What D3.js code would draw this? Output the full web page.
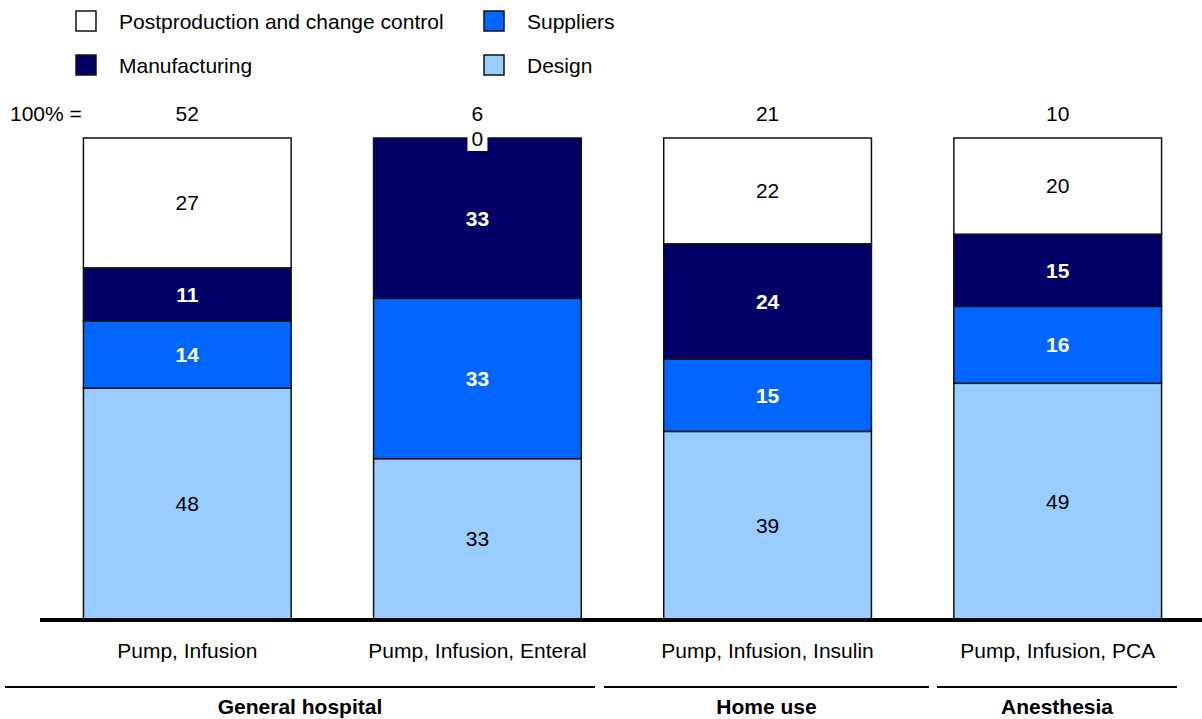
<!DOCTYPE html>
<html>
<head>
<meta charset="utf-8">
<script src="https://cdn.jsdelivr.net/npm/d3@7"></script>
<style>
  html, body { margin: 0; padding: 0; background: #fff; }
  svg { display: block; font-family: "Liberation Sans", Arial, sans-serif; }
</style>
</head>
<body>
<svg id="chart" width="1202" height="719"></svg>
<script>
// Device categories and their groups
const categories = ["Pump, Infusion", "Pump, Infusion, Enteral", "Pump, Infusion, Insulin", "Pump, Infusion, PCA"];
const groups = [
  { name: "General hospital", members: ["Pump, Infusion", "Pump, Infusion, Enteral"] },
  { name: "Home use", members: ["Pump, Infusion, Insulin"] },
  { name: "Anesthesia", members: ["Pump, Infusion, PCA"] }
];
const totals = [52, 6, 21, 10];

// Share of recalls by root cause (%), stacked bottom to top
const seriesKeys = ["Design", "Suppliers", "Manufacturing", "Postproduction and change control"];
const design = [48, 33, 39, 49];
const suppliers = [14, 33, 15, 16];
const manufacturing = [11, 33, 24, 15];
const postproduction = [27, 0, 22, 20];

const colors = {
  "Design": "#99ccff",
  "Suppliers": "#0066ff",
  "Manufacturing": "#000066",
  "Postproduction and change control": "#ffffff"
};
const labelStyle = {
  "Design": { fill: "#000", weight: "normal" },
  "Suppliers": { fill: "#fff", weight: "bold" },
  "Manufacturing": { fill: "#fff", weight: "bold" },
  "Postproduction and change control": { fill: "#000", weight: "normal" }
};

const rows = categories.map((c, i) => ({
  category: c,
  "Design": design[i],
  "Suppliers": suppliers[i],
  "Manufacturing": manufacturing[i],
  "Postproduction and change control": postproduction[i]
}));

const svg = d3.select("#chart");
const fontSize = 21;

const x = d3.scaleBand().domain(categories).range([37, 1208]).paddingInner(0.284).paddingOuter(0.16);
const y = d3.scaleLinear().domain([0, 1]).range([619, 138]);

// Each column is shown as shares of its own total
const stack = d3.stack().keys(seriesKeys).offset(d3.stackOffsetExpand);
const stacked = stack(rows);

// Bars
const layers = svg.append("g").selectAll("g")
  .data(stacked).join("g")
  .attr("fill", d => colors[d.key]);

layers.selectAll("rect")
  .data(d => d.map(v => ({ key: d.key, v })))
  .join("rect")
  .attr("x", d => x(d.v.data.category))
  .attr("width", x.bandwidth())
  .attr("y", d => y(d.v[1]))
  .attr("height", d => y(d.v[0]) - y(d.v[1]))
  .attr("stroke", "#111")
  .attr("stroke-width", 1.5);

// Segment value labels
const labels = svg.append("g");
stacked.forEach(layer => {
  layer.forEach(v => {
    const val = v.data[layer.key];
    const cx = x(v.data.category) + x.bandwidth() / 2;
    const cy = (y(v[0]) + y(v[1])) / 2;
    const st = labelStyle[layer.key];
    if (val === 0) {
      labels.append("rect")
        .attr("x", cx - 10).attr("y", cy - 8)
        .attr("width", 20).attr("height", 21)
        .attr("fill", "#fff");
    }
    labels.append("text")
      .attr("x", cx).attr("y", val === 0 ? cy + 1 : cy)
      .attr("dy", "0.35em")
      .attr("text-anchor", "middle")
      .attr("font-size", fontSize)
      .attr("font-weight", val === 0 ? "normal" : st.weight)
      .attr("fill", val === 0 ? "#000" : st.fill)
      .text(val);
  });
});

// Totals row
svg.append("text")
  .attr("x", 10).attr("y", 114).attr("dy", "0.35em")
  .attr("font-size", fontSize).text("100% =");
svg.append("g").selectAll("text")
  .data(categories).join("text")
  .attr("x", d => x(d) + x.bandwidth() / 2)
  .attr("y", 114).attr("dy", "0.35em")
  .attr("text-anchor", "middle")
  .attr("font-size", fontSize)
  .text((d, i) => totals[i]);

// Baseline
svg.append("line")
  .attr("x1", 40).attr("x2", 1202)
  .attr("y1", y(0) + 1).attr("y2", y(0) + 1)
  .attr("stroke", "#000").attr("stroke-width", 4);

// Category axis labels
const xAxis = d3.axisBottom(x).tickSize(0).tickPadding(0);
const axisG = svg.append("g").attr("transform", "translate(0,651)").call(xAxis);
axisG.select(".domain").remove();
axisG.selectAll("text")
  .attr("font-size", fontSize)
  .attr("font-family", "Liberation Sans, Arial, sans-serif")
  .attr("fill", "#000")
  .attr("dy", "0.35em")
  .attr("y", 0);

// Group brackets
const groupExtents = [[5, 595], [604, 929], [937, 1177]];
groups.forEach((g, i) => {
  const [x0, x1] = groupExtents[i];
  svg.append("line")
    .attr("x1", x0).attr("x2", x1)
    .attr("y1", 687).attr("y2", 687)
    .attr("stroke", "#000").attr("stroke-width", 2);
  svg.append("text")
    .attr("x", (x0 + x1) / 2).attr("y", 707).attr("dy", "0.35em")
    .attr("text-anchor", "middle")
    .attr("font-size", fontSize).attr("font-weight", "bold")
    .text(g.name);
});

// Legend
const legendItems = [
  { key: "Postproduction and change control", x: 76, y: 11 },
  { key: "Suppliers", x: 484, y: 11 },
  { key: "Manufacturing", x: 76, y: 55 },
  { key: "Design", x: 484, y: 55 }
];
const legend = svg.append("g");
legendItems.forEach(it => {
  legend.append("rect")
    .attr("x", it.x).attr("y", it.y)
    .attr("width", 20).attr("height", 20)
    .attr("fill", colors[it.key])
    .attr("stroke", "#111").attr("stroke-width", 1.5);
  legend.append("text")
    .attr("x", it.x + 43).attr("y", it.y + 11).attr("dy", "0.35em")
    .attr("font-size", fontSize)
    .text(it.key);
});
</script>
</body>
</html>
